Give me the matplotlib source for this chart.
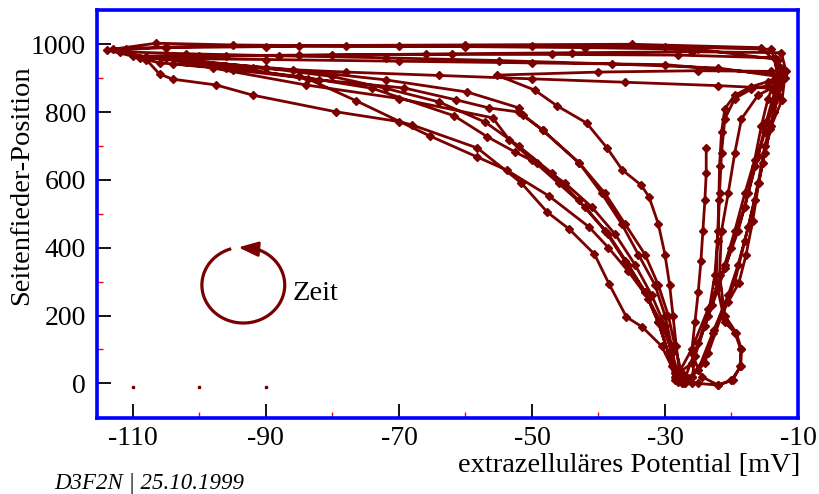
import numpy as np
import matplotlib
matplotlib.use('Agg')
import matplotlib.pyplot as plt

plt.rcParams['font.family'] = ['Liberation Serif', 'DejaVu Serif']

# ---- data: extracellular potential (mV) vs. side-feather position, cycle by cycle ----
x1 = [-23.8, -23.8, -24.0, -24.3, -24.6, -25.0, -25.5, -26.0, -24.5, -22.0, -19.8, -18.7, -18.6, -19.5, -21.0,
      -22.3, -22.1, -21.9, -21.8, -21.5, -21.0, -19.5, -17.0, -14.5, -13.0, -22, -38, -55, -72, -88, -102, -112,
      -108, -96, -83.7, -76.4, -65.4, -58.3, -53.8, -47.4, -41.4, -38.5, -35.5, -32.5, -30.5, -29.0, -28.0, -27.3]
y1 = [694, 620, 540, 450, 360, 270, 180, 90, 20, -5, 10, 50, 100, 150, 180,
      300, 420, 540, 640, 740, 810, 850, 875, 890, 905, 930, 942, 952, 960, 966, 972, 978,
      962, 935, 898, 833, 730, 668, 629, 552, 461, 400, 330, 250, 175, 95, 25, 0]

x2 = [-26.0, -24.0, -22.6, -20.5, -18.9, -17.8, -16.8, -15.9, -15.0, -14.0, -12.4, -12.0, -13.0,
      -25, -42, -60, -78, -95, -106.5, -113.9,
      -108, -106, -104, -97.5, -92, -79.5, -70, -68, -58.2, -51.6, -47.7, -44.4, -40.6, -38.4, -35.8, -33.4,
      -30.5, -29.0, -28.0]
y2 = [20, 60, 157, 240, 296, 380, 480, 591, 680, 760, 836, 900, 955,
      985, 990, 993, 995, 998, 1003, 983,
      955, 912, 897, 880, 850, 801, 772, 762, 694, 591, 505, 455, 381, 293, 196, 166,
      110, 50, 5]

x3 = [-27.0, -25.0, -23.0, -21.0, -19.5, -18.0, -16.5, -15.5, -14.5, -13.5, -14.0,
      -25, -40, -55.3,
      -49.6, -46.2, -41.8, -38.7, -36.4, -33.6, -32.4, -31.0, -30.0, -29.3, -28.8, -28.3, -27.8, -27.0]
y3 = [15, 120, 230, 350, 450, 560, 660, 760, 840, 890, 920,
      922, 918, 909,
      865, 818, 768, 694, 629, 585, 550, 470, 380, 290, 200, 110, 30, 0]

x4 = [-26.0, -25.5, -23.5, -22.5, -22.0, -21.8, -21.5, -21.0, -19.5, -17.0, -14.5, -13.5,
      -22, -36, -50, -64, -78, -92, -104,
      -95, -82, -69.2, -61.4, -56.4, -51.9, -48.4, -42.9, -39.0, -36.0, -33.0, -31.0, -29.5, -28.5, -27.5]
y4 = [0, 80, 200, 320, 450, 560, 680, 780, 840, 868, 878, 870,
      878, 888, 898, 908, 918, 930, 942,
      925, 895, 871, 836, 812, 800, 747, 650, 560, 470, 380, 290, 200, 110, 30]

x5 = [-26.0, -23.5, -21.5, -19.5, -18.0, -16.5, -15.3, -14.2, -13.0, -11.8, -12.5,
      -26, -44, -62, -80, -96, -108,
      -100, -86, -72, -59.7, -51.9, -51.4, -48.4, -42.9, -39.5, -36.5, -34.0, -31.5, -30.0, -29.0, -28.5, -27.5]
y5 = [20, 90, 200, 300, 420, 540, 650, 750, 850, 920, 975,
      978, 975, 972, 968, 965, 962,
      948, 925, 895, 859, 812, 791, 747, 650, 560, 470, 380, 290, 200, 110, 30, 0]

x6 = [-25.0, -22.8, -20.5, -19.0, -17.5, -16.0, -15.0, -13.6, -12.8, -13.5,
      -28, -47, -66, -85, -100, -110,
      -106, -96, -85, -74, -61.7, -56.7, -52.6, -49.3, -45.0, -41.0, -37.5, -34.5, -32.0, -30.0, -29.0, -28.0]
y6 = [40, 150, 260, 350, 460, 590, 700, 800, 870, 960,
      968, 970, 970, 968, 966, 965,
      945, 930, 905, 870, 789, 727, 683, 650, 590, 520, 440, 350, 260, 170, 90, 15]

x7 = [-25.0, -22.0, -20.0, -18.6, -18.5, -19.3, -21.0, -21.8, -21.5, -20.5, -19.5, -18.5, -16.0, -13.0, -12.3,
      -30, -50, -70, -90, -105,
      -98, -84, -70, -55.9, -53.4, -50.0, -46.0, -42.0, -38.5, -35.5, -33.0, -31.0, -29.5, -28.5]
y7 = [0, -5, 10, 50, 100, 150, 200, 320, 450, 560, 680, 780, 850, 880, 910,
      940, 945, 950, 955, 958,
      930, 880, 840, 783, 718, 660, 590, 520, 440, 350, 270, 180, 90, 20]

x8 = [-26.0, -24.0, -22.0, -20.0, -18.0, -16.5, -15.0, -13.6, -12.8, -14.0,
      -30, -50, -70, -90, -105, -111,
      -109, -100, -90, -80, -72, -64, -57, -52, -47, -43, -39, -36, -33, -31, -29.5, -28.5]
y8 = [60, 170, 280, 400, 520, 640, 740, 830, 900, 985,
      993, 995, 995, 993, 990, 985,
      960, 950, 930, 905, 870, 830, 770, 700, 620, 540, 450, 360, 270, 180, 90, 10]

x9 = [-26.0, -23.5, -21.0, -19.0, -17.5, -16.0, -14.8, -13.5, -12.5, -15.5, -35, -60, -85, -105, -113]
y9 = [100, 220, 340, 450, 560, 670, 770, 860, 930, 990, 1000, 998, 996, 992, 985]

stray_x = [-110, -100, -90]
stray_y = [-10, -10, -10]

x_major = [-110, -90, -70, -50, -30, -10]
x_minor = [-100, -80, -60, -40, -20]
y_major = [0, 200, 400, 600, 800, 1000]
y_minor = [100, 300, 500, 700, 900]

xlabel = 'extrazelluläres Potential [mV]'
ylabel = 'Seitenfieder-Position'
footer = 'D3F2N | 25.10.1999'
zeit = 'Zeit'

# ---- figure ----
DARK = '#7a0000'
fig = plt.figure(figsize=(8.19, 4.94), dpi=100)
ax = fig.add_axes([97/819, 1 - 418/494, (798 - 97)/819, (418 - 10)/494])

xs = np.concatenate([x1, x2, x3, x4, x5, x6, x7, x8, x9])
ys = np.concatenate([y1, y2, y3, y4, y5, y6, y7, y8, y9])
ax.plot(xs, ys, color=DARK, lw=2.0, marker='D', ms=4.5, mec=DARK, mfc=DARK, solid_joinstyle='round')
ax.plot(stray_x, stray_y, ls='none', marker='s', ms=1.5, color=DARK)

ax.set_xlim(-115.4, -10)
ax.set_ylim(-102, 1101)

ax.set_xticks(x_major)
ax.set_xticklabels([str(v) for v in x_major])
ax.set_xticks(x_minor, minor=True)
ax.set_yticks(y_major)
ax.set_yticklabels([str(v) for v in y_major])
ax.set_yticks(y_minor, minor=True)
ax.tick_params(which='major', direction='in', length=10, width=1.3, color='black',
               labelsize=20, top=False, right=False)
ax.tick_params(axis='x', which='major', pad=6)
ax.tick_params(axis='y', which='major', pad=8)
ax.tick_params(which='minor', direction='in', length=4.3, width=1.0, color='red',
               top=False, right=False)
for s in ax.spines.values():
    s.set_color('#0000ff')
    s.set_linewidth(2.6)

# time-direction circle (counter-clockwise arrow), parametric ellipse around a centre
cx, cy, cw, chh = -93.4, 290, 12.46, 224
t = np.deg2rad(np.linspace(107, 434, 200))
ax.plot(cx + cw/2*np.cos(t), cy + chh/2*np.sin(t), color=DARK, lw=2.3, solid_capstyle='butt')
tip_a, base_a = np.deg2rad(97), np.deg2rad(72)
ax.annotate('', xy=(cx + cw/2*np.cos(tip_a), cy + chh/2*np.sin(tip_a)),
            xytext=(cx + cw/2*np.cos(base_a), cy + chh/2*np.sin(base_a)),
            arrowprops=dict(arrowstyle='-|>,head_length=1.2,head_width=0.45', mutation_scale=10,
                            color=DARK, lw=2.0, shrinkA=0, shrinkB=0))
ax.text(-86.0, 246, zeit, fontsize=20.5, ha='left', va='baseline', color='black')

fig.text(22/819, 1 - 185/494, ylabel, rotation=90, ha='center', va='center', fontsize=20.5)
fig.text(800/819, 1 - 472/494, xlabel, ha='right', va='baseline', fontsize=20.5)
fig.text(54/819, 1 - 489/494, footer, ha='left', va='baseline', fontsize=16.5, style='italic')

fig.savefig('out.png', dpi=100, facecolor='white')
